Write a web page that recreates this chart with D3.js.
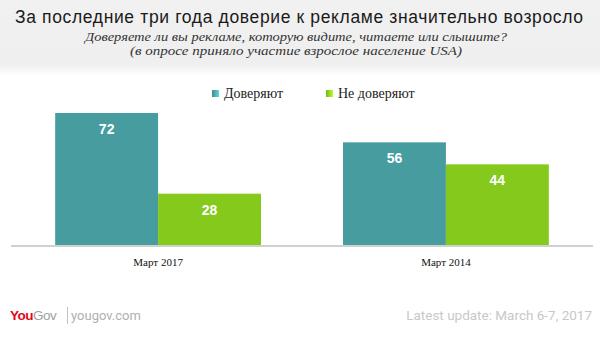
<!DOCTYPE html>
<html><head><meta charset="utf-8">
<script src="https://cdn.jsdelivr.net/npm/d3@7"></script>
<style>body{margin:0;background:#fff}svg{display:block}</style>
</head><body>
<svg id="c" width="600" height="339"></svg>
<script>
const categories = ["Март 2017", "Март 2014"];
const seriesNames = ["Доверяют", "Не доверяют"];
const trustValues = [72, 56];
const distrustValues = [28, 44];
const colors = ["#479c9f", "#84c91c"];
const title = "За последние три года доверие к рекламе значительно возросло";
const subtitle = ["Доверяете ли вы рекламе, которую видите, читаете или слышите?", "(в опросе приняло участие взрослое население USA)"];

const svg = d3.select("#c");
const defs = svg.append("defs");
const hg = defs.append("linearGradient").attr("id","hg").attr("x1",0).attr("y1",0).attr("x2",0).attr("y2",1);
hg.append("stop").attr("offset","0%").attr("stop-color","#f1f1f1");
hg.append("stop").attr("offset","85%").attr("stop-color","#efefef");
hg.append("stop").attr("offset","100%").attr("stop-color","#ffffff");
svg.append("rect").attr("x",0).attr("y",0).attr("width",600).attr("height",76).attr("fill","url(#hg)");

svg.append("text").attr("x",299).attr("y",23).attr("text-anchor","middle")
  .attr("font-family","Liberation Sans, Arial, sans-serif").attr("font-size",17.5).attr("fill","#1a1a1a")
  .attr("textLength",568).attr("lengthAdjust","spacing").text(title);
const subLens = [422, 332];
const subX = [296, 296];
subtitle.forEach((s,i)=>svg.append("text").attr("x",subX[i]).attr("y",41+i*14).attr("text-anchor","middle")
  .attr("font-family","Liberation Serif, serif").attr("font-style","italic").attr("font-size",12).attr("fill","#333")
  .attr("textLength",subLens[i]).attr("lengthAdjust","spacingAndGlyphs").text(s));

// legend
const lg = svg.append("g");
const legX = [212, 326];
seriesNames.forEach((n,i)=>{
  const g = defs.append("linearGradient").attr("id","lg"+i);
  g.append("stop").attr("offset","0%").attr("stop-color", d3.color(colors[i]).darker(0.3));
  g.append("stop").attr("offset","100%").attr("stop-color", d3.color(colors[i]).brighter(0.9));
  lg.append("rect").attr("x",legX[i]).attr("y",90).attr("width",7).attr("height",7).attr("fill","url(#lg"+i+")");
  lg.append("text").attr("x",legX[i]+12).attr("y",98).attr("font-family","Liberation Serif, serif").attr("font-size",14).attr("fill","#222").text(n);
});

const x0 = d3.scaleBand().domain(categories).range([10,594]).paddingInner(0.285).paddingOuter(0.157);
const x1 = d3.scaleBand().domain(seriesNames).range([0, x0.bandwidth()]);
const y = d3.scaleLinear().domain([0,100]).range([245, 61.7]);

const data = categories.map((c,i)=>({cat:c, vals:[trustValues[i], distrustValues[i]]}));
const groups = svg.append("g").selectAll("g").data(data).join("g").attr("transform",d=>`translate(${x0(d.cat)},0)`);
groups.selectAll("rect").data(d=>d.vals.map((v,i)=>({v,i}))).join("rect")
  .attr("x",d=>x1(seriesNames[d.i])).attr("y",d=>y(d.v)).attr("width",x1.bandwidth()).attr("height",d=>y(0)-y(d.v))
  .attr("fill",d=>colors[d.i]);
groups.selectAll("text").data(d=>d.vals.map((v,i)=>({v,i}))).join("text")
  .attr("x",d=>x1(seriesNames[d.i])+x1.bandwidth()/2).attr("y",d=>y(d.v)+21)
  .attr("text-anchor","middle").attr("font-family","Liberation Sans, Arial, sans-serif").attr("font-weight","bold")
  .attr("font-size",14).attr("fill","#fff").text(d=>d.v);

const ax = svg.append("g").attr("transform","translate(0,246)")
  .call(d3.axisBottom(x0).tickSize(0).tickPadding(12));
ax.select(".domain").attr("stroke","#d0d0d0").attr("stroke-width",2).attr("d","M11,0H593");
ax.selectAll("text").attr("font-family","Liberation Serif, serif").attr("font-size",11).attr("fill","#111");

// footer
const f = svg.append("text").attr("x",10).attr("y",320).attr("font-family","Liberation Sans, Arial, sans-serif").attr("font-size",13.5);
f.append("tspan").attr("fill","#e3051b").attr("font-weight","bold").attr("letter-spacing","-0.5").text("You");
f.append("tspan").attr("fill","#a0a0a0").attr("letter-spacing","-0.5").text("Gov");
svg.append("line").attr("x1",67.5).attr("x2",67.5).attr("y1",307).attr("y2",324).attr("stroke","#c0c0c0");
svg.append("text").attr("x",71).attr("y",320).attr("font-family","Roboto, sans-serif").attr("font-size",13).attr("fill","#b0b0b0").text("yougov.com");
svg.append("text").attr("x",592).attr("y",320).attr("text-anchor","end").attr("font-family","Roboto, sans-serif").attr("font-size",13.5).attr("fill","#c8c8c8").text("Latest update: March 6-7, 2017");
</script>
</body></html>
